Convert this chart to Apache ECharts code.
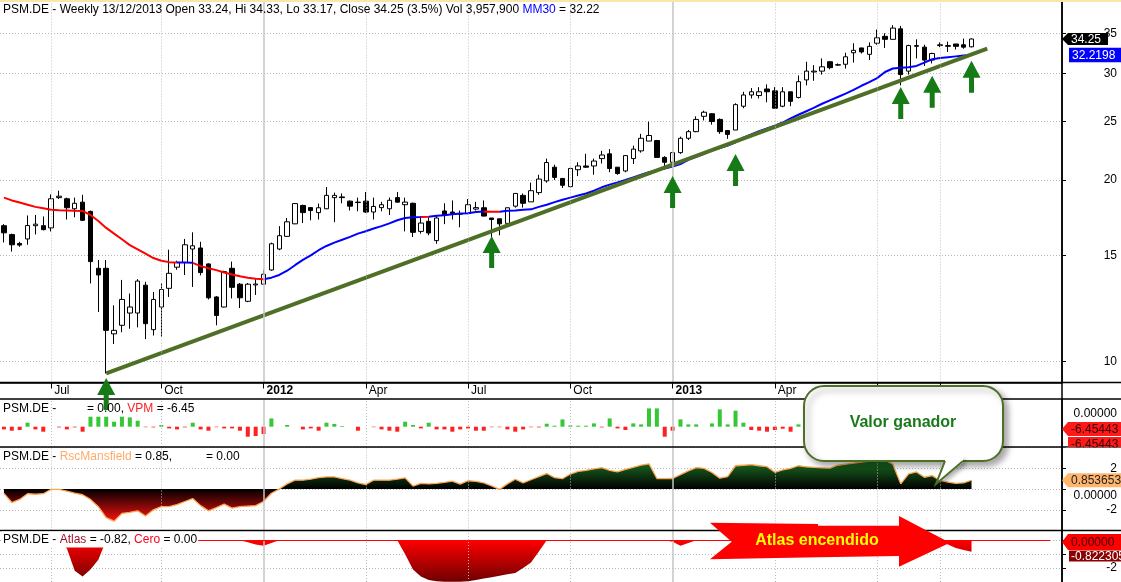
<!DOCTYPE html>
<html>
<head>
<meta charset="utf-8">
<script src="https://cdn.jsdelivr.net/npm/echarts@6.0.0/dist/echarts.min.js"></script>
<style>
html,body{margin:0;padding:0;background:#fff;}
#main{width:1121px;height:582px;}
</style>
</head>
<body>
<div id="main"></div>
<script>
// ---------- DATA ----------
const slotCount = 135; // weekly slots on the time axis (124 bars + empty right margin)
const firstWeek = [2011, 4, 20]; // 20 May 2011

const opens = [16.8,16.24,15.7,15.97,16.8,16.8,16.66,18.7,18.62,17.92,
18.38,17.74,14.28,14.28,11.12,11.49,12.04,12.04,13.39,11.3,
12.32,13.23,14.34,14.6,15.37,15.43,14.52,12.8,12.32,14.28,
13.44,12.59,13.4,13.44,14.19,15.37,16.13,16.92,18.15,18.0,
17.66,17.92,18.7,18.75,18.45,18.35,18.45,17.7,18.0,17.92,
18.7,18.2,18.3,16.44,17.08,15.87,17.77,17.7,17.55,17.6,
17.9,17.99,17.3,17.25,16.95,18.1,18.86,18.4,19.06,19.93,
21.0,20.12,19.5,20.8,21.1,21.1,21.7,22.1,21.0,20.7,
21.7,22.35,23.2,23.25,21.8,21.4,22.2,23.45,24.05,25.5,
25.75,25.2,24.15,24.2,26.5,27.66,27.6,28.3,28.1,26.5,
28.0,27.4,29.3,30.2,30.3,31.4,31.0,31.1,32.5,33.1,
32.3,33.7,34.6,34.2,35.6,30.3,33.3,33.2,31.6,33.4,
33.3,33.6,33.5,33.24];
const closes = [16.35,15.62,15.6,16.81,16.9,16.55,18.62,18.8,17.99,18.3,
17.15,14.65,13.92,11.27,11.27,12.68,12.32,13.6,11.56,12.68,
13.17,14.01,14.6,15.62,15.56,14.05,12.76,11.93,14.1,13.28,
12.76,13.44,13.45,13.96,15.68,16.17,17.05,18.28,17.66,17.8,
17.99,18.86,18.86,18.7,18.1,18.38,17.7,18.08,18.2,18.51,
18.38,18.38,16.38,16.97,16.34,17.3,17.5,17.6,17.6,18.2,
18.0,17.43,17.2,16.92,17.99,19.0,18.3,19.2,20.07,21.38,
20.2,19.6,20.9,21.1,21.0,21.5,22.0,20.9,20.5,21.95,
22.5,23.45,23.7,21.8,21.4,22.2,23.45,24.05,25.2,25.9,
25.0,24.05,23.8,26.66,27.66,28.0,28.0,28.0,26.3,28.0,
27.0,29.1,30.3,30.3,30.8,30.7,31.05,32.0,32.8,32.6,
33.3,34.4,34.2,35.7,29.9,33.4,33.4,31.6,32.4,33.5,
33.4,33.3,33.2,34.25];
const lows = [15.76,15.22,15.5,15.62,16.25,16.5,16.44,18.6,17.2,17.35,
17.1,13.48,12.09,9.56,10.7,11.19,11.34,11.4,10.9,11.05,
11.0,12.8,14.2,13.92,13.3,13.9,12.68,11.49,12.3,12.73,
12.27,12.55,12.9,13.4,14.15,15.3,16.1,16.9,16.97,17.15,
17.2,17.9,17.03,18.3,17.8,17.75,17.65,17.2,17.75,17.5,
18.35,16.44,16.09,16.3,16.2,15.68,16.9,17.2,16.7,17.55,
17.8,17.4,15.9,16.2,16.9,18.0,18.0,18.4,18.9,19.8,
20.0,19.4,19.45,20.3,20.95,20.4,21.3,20.6,20.4,20.6,
21.25,22.2,23.2,21.8,21.1,21.3,22.1,23.3,24.0,25.1,
24.7,23.85,23.4,24.2,26.3,27.3,27.3,26.9,26.3,26.4,
26.5,27.3,28.7,29.2,29.9,30.5,30.9,30.6,31.3,32.4,
31.6,33.5,33.1,34.2,28.7,29.9,31.8,30.9,31.2,33.2,
32.6,32.9,33.0,33.17];
const highs = [16.9,16.3,15.8,17.47,17.5,17.4,18.93,19.2,18.7,18.7,
18.9,17.8,14.74,14.74,12.4,13.66,12.97,13.7,13.56,13.05,
13.48,15.33,14.7,15.97,16.38,15.8,14.55,12.85,14.15,14.65,
13.5,13.5,13.7,14.2,15.75,16.77,17.3,18.3,18.2,18.0,
18.28,19.47,19.06,19.0,18.5,18.7,19.1,18.7,18.4,18.7,
19.1,18.7,18.35,17.4,17.4,17.5,18.3,18.5,17.8,18.6,
18.4,18.5,17.3,17.25,18.0,19.0,19.0,19.8,20.4,21.7,
21.2,20.15,20.95,21.4,22.1,21.7,22.35,22.5,21.0,22.0,
22.8,23.85,24.98,23.3,21.9,22.2,23.6,24.2,25.5,26.05,
25.8,25.3,24.2,26.8,28.0,28.4,28.5,28.8,28.5,28.5,
28.0,29.8,31.4,31.0,31.8,31.5,31.2,32.5,33.7,33.1,
33.8,35.5,35.0,36.1,36.0,33.5,34.2,33.5,32.5,33.8,
33.9,33.6,34.3,34.33];
const ma30 = [18.7,18.5,18.35,18.2,18.05,17.95,17.85,17.82,17.8,17.78,
17.77,17.5,17.1,16.66,16.3,15.95,15.6,15.35,15.1,14.85,
14.7,14.62,14.6,14.6,14.58,14.4,14.28,14.18,14.05,13.95,
13.85,13.78,13.72,13.7,13.78,13.92,14.15,14.45,14.75,15.0,
15.3,15.55,15.75,15.92,16.1,16.3,16.45,16.62,16.77,16.95,
17.15,17.3,17.35,17.36,17.38,17.45,17.48,17.55,17.6,17.62,
17.7,17.73,17.72,17.72,17.78,17.8,17.85,17.88,18.05,18.2,
18.38,18.55,18.7,18.85,19.0,19.2,19.45,19.65,19.82,20.0,
20.2,20.4,20.6,20.75,20.9,21.05,21.25,21.6,21.85,22.1,
22.4,22.6,22.8,23.1,23.5,23.8,24.1,24.35,24.6,24.9,
25.3,25.65,26.0,26.35,26.75,27.1,27.45,27.8,28.2,28.65,
29.05,29.5,30.2,30.6,30.7,30.75,30.9,31.3,31.7,31.85,
31.95,32.05,32.15,32.22];
const vpm = [-2.7,-4,-3.3,4,-2.7,-5,0,-0.7,-2.7,-0.7,
-5,10,10,10,5,10,9.3,6,-0.5,-0.7,
1.7,-1.7,-2.7,-0.7,4,-2.7,-4,-0.5,-1.7,-1.7,
-4,-10,-9.3,-7.3,8.3,0,1.7,0,-2.7,-1.7,
-4,4,2.7,0.7,0,-4,0,-0.5,-2.7,-4,
-5,5,1.7,-1.7,4,-2.7,-2.7,-5,-2.7,-1.7,
-4,-4,-0.5,-0.5,-2.7,-5,-2.7,-0.5,-0.7,3,
1,7.3,1.3,1,1,3.3,-0.7,8.3,-1.7,-3.3,
3.3,2.3,18.3,18.3,-10,-4,7.3,2.3,2.3,0,
3.3,17.3,2.3,16,4,-3.3,-4,-5,-3.3,-2,
-5,2.3,3,1,2,-2,-1,3,2,-2,
1,4,-2,3,-8,2,-1,-3,1,-1,
-1.5,-2,-2,-3];
const rsc = [-0.41,-1.3,-1.0,-0.45,-0.5,-0.45,-0.03,-0.03,-0.2,-0.4,
-0.55,-1.0,-1.7,-2.75,-3.1,-2.35,-2.25,-2.1,-2.6,-2.0,
-1.7,-1.7,-1.5,-1.2,-0.92,-1.6,-2.1,-1.8,-1.46,-1.84,
-1.7,-1.65,-1.6,-1.2,-0.4,0.0,0.5,0.86,0.86,0.95,
1.1,1.17,1.17,1.0,0.86,0.6,0.44,0.86,0.86,0.86,
0.95,1.08,0.29,0.54,0.5,0.55,0.65,0.76,0.48,0.8,
0.75,0.6,0.3,-0.03,0.5,0.95,0.6,0.9,1.2,1.5,
1.1,1.0,1.45,1.7,1.8,1.95,2.06,1.8,1.65,1.9,
2.1,2.3,2.44,1.02,1.0,1.02,1.4,1.75,2.07,2.0,
1.6,1.05,1.2,2.25,2.3,2.35,2.25,2.16,1.62,1.85,
2.0,2.25,2.15,2.1,2.05,2.03,2.3,2.4,2.5,2.6,
2.7,2.75,2.8,2.4,0.5,1.46,1.65,1.14,1.3,0.83,
0.67,0.55,0.6,0.85];
const atlas = [0,0,0,0,0,0,0,0,-0.6,-2.2,
-2.6,-2.1,-1.4,0,0,0,0,0,0,0,
0,0,0,0,0,0,0,0,0,0,
0,-0.15,-0.3,-0.4,-0.2,0,0,0,0,0,
0,0,0,0,0,0,0,0,0,0,
0,-1.0,-2.1,-2.6,-2.85,-2.95,-2.98,-2.98,-2.98,-2.95,
-2.85,-2.75,-2.65,-2.55,-2.45,-2.35,-2.0,-1.6,-0.8,0,
0,0,0,0,0,0,0,0,0,0,
0,0,0,0,0,-0.1,-0.4,-0.2,0,0,
0,0,0,0,0,0,0,0,0,0,
0,0,0,0,0,0,0,0,0,0,
0,0,0,0,0,0,0,0,0,0,
-0.3,-0.55,-0.7,-0.82];
const trendline = [[13, 9.56], [125, 33.0]];
const arrowTips = [[13, 9.40], [62, 16.15], [85, 20.31], [93, 22.09], [114, 28.52], [118, 29.76], [123, 31.51]];
const tickIdx = [6, 20, 33, 46, 59, 72, 85, 98, 111, 119];
const tickText = ['Jul', 'Oct', '2012', 'Apr', 'Jul', 'Oct', '2013', 'Apr', 'Jul', 'Sep'];
const priceTicks = [10, 15, 20, 25, 30, 35];
const maSegments = [
  {lt: 21.7, color: '#ff0000'}, {gte: 21.7, lt: 24.2, color: '#0000ff'},
  {gte: 24.2, lt: 33, color: '#ff0000'}, {gte: 33, lt: 53.1, color: '#0000ff'},
  {gte: 53.1, lt: 54.2, color: '#ff0000'}, {gte: 54.2, lt: 61.4, color: '#0000ff'},
  {gte: 61.4, lt: 62.9, color: '#ff0000'}, {gte: 62.9, color: '#0000ff'}
];

// ---------- BUILD ----------
const FONT = "'Liberation Sans', Arial, sans-serif";
const categories = [];
for (let i = 0; i < slotCount; i++) {
  const d = new Date(Date.UTC(firstWeek[0], firstWeek[1], firstWeek[2] + 7 * i));
  categories.push(d.toISOString().slice(0, 10));
}
const candleData = opens.map((o, i) => [o, closes[i], lows[i], highs[i]]);
const tickMap = {};
tickIdx.forEach((ix, k) => { tickMap[ix] = tickText[k]; });
const isTick = idx => tickMap[idx] !== undefined;

const W = 1062;
const grids = [
  {left: 0, top: 0, width: W, height: 382.5},
  {left: 0, top: 399, width: W, height: 48},
  {left: 0, top: 447, width: W, height: 83.5},
  {left: 0, top: 530.5, width: W, height: 51.5}
];

const xAxes = grids.map((g, gi) => ({
  type: 'category', gridIndex: gi, data: categories, boundaryGap: true,
  axisLine: {show: gi === 0, onZero: false, lineStyle: {color: '#000', width: 1.5}},
  axisTick: {show: gi === 0, interval: idx => isTick(idx), alignWithLabel: true, length: 6, lineStyle: {color: '#000'}},
  axisLabel: {
    show: gi === 0, interval: idx => isTick(idx),
    formatter: (v, idx) => { const t = tickMap[idx]; if (!t) return ''; return t.length === 4 ? '{b|' + t + '}' : t; },
    align: 'left', padding: [0, 0, 0, 3], margin: 2, fontSize: 12, fontFamily: FONT, color: '#000',
    rich: {b: {fontWeight: 'bold', fontSize: 12, fontFamily: FONT, color: '#000'}}
  },
  splitLine: {show: false}
}));

const axisLineStyle = {show: true, onZero: false, lineStyle: {color: '#000', width: 1.5}};
const dotted = {show: true, lineStyle: {color: '#b8b8b8', width: 1, type: [1, 2]}};
const yAxes = [
  {type: 'log', gridIndex: 0, position: 'right', min: 9.237, max: 39.74, logBase: 10,
   axisLine: axisLineStyle,
   axisTick: {show: true, customValues: priceTicks, length: 4, lineStyle: {color: '#000'}},
   axisLabel: {show: true, customValues: priceTicks, margin: 55, align: 'right', fontSize: 12, fontFamily: FONT, color: '#000',
     formatter: v => String(Math.round(v))},
   splitLine: dotted},
  {type: 'value', gridIndex: 1, position: 'right', min: -20.3, max: 27.7,
   axisLine: axisLineStyle, axisTick: {show: false}, axisLabel: {show: false}, splitLine: {show: false}},
  {type: 'value', gridIndex: 2, position: 'right', min: -4, max: 4.06, interval: 2,
   axisLine: axisLineStyle, axisTick: {show: true, length: 4, lineStyle: {color: '#000'}},
   axisLabel: {margin: 55, align: 'right', fontSize: 12, fontFamily: FONT, color: '#000',
     formatter: v => (v === 2 || v === -2) ? String(v) : ''},
   splitLine: dotted},
  {type: 'value', gridIndex: 3, position: 'right', min: -3, max: 0.7, interval: 1,
   axisLine: axisLineStyle, axisTick: {show: true, length: 4, lineStyle: {color: '#000'}},
   axisLabel: {margin: 55, align: 'right', fontSize: 12, fontFamily: FONT, color: '#000',
     formatter: v => v === -2 ? '-2' : ''},
   splitLine: dotted}
];

const vLines = tickIdx.map((ix, k) => ({
  xAxis: ix,
  lineStyle: tickText[k].length === 4
    ? {color: '#c4c4c4', width: 1.5, type: 'solid'}
    : {color: '#bdbdbd', width: 1, type: [1, 2]}
}));

const gridLineSeries = [0, 1, 2, 3].map(gi => ({
  type: 'line', xAxisIndex: gi, yAxisIndex: gi, data: [], silent: true, z: 1,
  markLine: {silent: true, symbol: ['none', 'none'], label: {show: false}, animation: false, data: vLines}
}));

const series = gridLineSeries.concat([
  {type: 'line', xAxisIndex: 3, yAxisIndex: 3, data: [], silent: true, z: 4,
   markLine: {silent: true, symbol: ['none', 'none'], label: {show: false}, animation: false,
     data: [[{coord: [0, 0], lineStyle: {color: '#ff0000', width: 1.2, type: 'solid'}}, {coord: [133, 0]}]]}},
  {type: 'candlestick', xAxisIndex: 0, yAxisIndex: 0, data: candleData, barWidth: 5, z: 2, silent: true,
   itemStyle: {color: '#ffffff', color0: '#000000', borderColor: '#000000', borderColor0: '#000000', borderWidth: 1}},
  {type: 'line', xAxisIndex: 0, yAxisIndex: 0, data: ma30, symbol: 'none', silent: true, z: 3,
   lineStyle: {width: 2}},
  {type: 'line', xAxisIndex: 0, yAxisIndex: 0, data: trendline, symbol: 'none', silent: true, z: 4,
   lineStyle: {width: 4, color: '#4f6f27'}},
  {type: 'scatter', xAxisIndex: 0, yAxisIndex: 0, data: arrowTips, clip: false, silent: true, z: 6,
   symbol: 'path://M9 0 L18 17 L11.5 17 L11.5 32 L6.5 32 L6.5 17 L0 17 Z',
   symbolSize: [18, 32], symbolOffset: [0, '50%'], itemStyle: {color: '#167a16', opacity: 1}},
  {type: 'bar', xAxisIndex: 1, yAxisIndex: 1, data: vpm, barWidth: 4, silent: true, z: 2,
   itemStyle: {color: p => p.value >= 0 ? '#36c736' : '#ff2020'}},
  {type: 'line', xAxisIndex: 2, yAxisIndex: 2, data: rsc, symbol: 'none', silent: true, z: 2,
   lineStyle: {color: '#ffa552', width: 1.3},
   areaStyle: {opacity: 1, color: new echarts.graphic.LinearGradient(0, 455, 0, 522, [
     {offset: 0, color: '#23862a'}, {offset: 0.507, color: '#000000'}, {offset: 1, color: '#ff1010'}], true)}},
  {type: 'line', xAxisIndex: 3, yAxisIndex: 3, data: atlas, symbol: 'none', silent: true, z: 2,
   lineStyle: {width: 0, opacity: 0},
   areaStyle: {opacity: 1, color: new echarts.graphic.LinearGradient(0, 540, 0, 582, [
     {offset: 0, color: '#ff0000'}, {offset: 1, color: '#6e0000'}], true)}}
]);

const chart = echarts.init(document.getElementById('main'), null, {renderer: 'canvas'});
chart.setOption({
  animation: false,
  backgroundColor: '#ffffff',
  grid: grids,
  xAxis: xAxes,
  yAxis: yAxes,
  visualMap: [{type: 'piecewise', show: false, dimension: 0, seriesIndex: 6, pieces: maSegments}],
  series: series
});

// ---------- ANNOTATIONS ----------
function txt(x, y, text, extra) {
  return {type: 'text', x: x, y: y, z: 100, silent: true,
    style: Object.assign({text: text, font: '12px ' + FONT, fill: '#000', verticalAlign: 'middle', align: 'left'}, extra || {})};
}
function tagLeft(yc, h, xEnd, fill, text, textColor) {
  const t = yc - h / 2, b = yc + h / 2;
  return [
    {type: 'polygon', z: 100, silent: true, shape: {points: [[1062, yc], [1068, t], [xEnd, t], [xEnd, b], [1068, b]]}, style: {fill: fill}},
    txt(1071, yc + 0.5, text, {fill: textColor})
  ];
}
const yClose = chart.convertToPixel({yAxisIndex: 0}, closes[closes.length - 1]);
const yMA = chart.convertToPixel({yAxisIndex: 0}, ma30[ma30.length - 1]);
const yRsc = chart.convertToPixel({yAxisIndex: 2}, rsc[rsc.length - 1]);
const R = {font: '12px ' + FONT};
const sepZ = 5;
const els = [
  {type: 'rect', z: 100, silent: true, shape: {x: 0, y: 0, width: 1121, height: 2}, style: {fill: '#f9e7aa'}},
  // separators
  {type: 'line', z: sepZ, silent: true, shape: {x1: 0, y1: 382.5, x2: 1121, y2: 382.5}, style: {stroke: '#000', lineWidth: 1.5}},
  {type: 'line', z: sepZ, silent: true, shape: {x1: 0, y1: 399, x2: 1121, y2: 399}, style: {stroke: '#000', lineWidth: 1.5}},
  {type: 'line', z: sepZ, silent: true, shape: {x1: 0, y1: 447, x2: 1121, y2: 447}, style: {stroke: '#000', lineWidth: 1.5}},
  {type: 'line', z: sepZ, silent: true, shape: {x1: 0, y1: 530.5, x2: 1121, y2: 530.5}, style: {stroke: '#000', lineWidth: 1.5}},
  {type: 'line', z: sepZ, silent: true, shape: {x1: 1062, y1: 0, x2: 1062, y2: 582}, style: {stroke: '#000', lineWidth: 1.5}},
  // title and panel captions
  txt(3, 10, 'PSM.DE - Weekly 13/12/2013 Open 33.24, Hi 34.33, Lo 33.17, Close 34.25 (3.5%) Vol 3,957,900 {b|MM30} = 32.22',
      {rich: {b: Object.assign({fill: '#0000ff'}, R)}}),
  txt(3, 409, 'PSM.DE -'),
  txt(87, 409, '= 0.00, {r|VPM} = -6.45', {rich: {r: Object.assign({fill: '#ff2020'}, R)}}),
  txt(3, 457, 'PSM.DE - {o|RscMansfield} = 0.85,', {rich: {o: Object.assign({fill: '#ffaa66'}, R)}}),
  txt(206, 457, '= 0.00'),
  txt(2, 539.5, 'PSM.DE - {a|Atlas} = -0.82, {c|Cero} = 0.00',
      {backgroundColor: '#ffffff', padding: [2, 1, 2, 1],
       rich: {a: Object.assign({fill: '#a0102a'}, R), c: Object.assign({fill: '#ff0022'}, R)}}),
  // right side value tags
  ...tagLeft(yClose, 12, 1108, '#000000', closes[closes.length - 1].toFixed(2), '#ffffff'),
  {type: 'rect', z: 100, silent: true, shape: {x: 1069, y: yMA - 7.3, width: 52, height: 14.6}, style: {fill: '#0000ff'}},
  txt(1072, yMA + 0.5, '32.2198', {fill: '#ffffff'}),
  txt(1117, 414, '0.00000', {align: 'right'}),
  ...tagLeft(429, 14, 1121, '#ff1a1a', '-6.45443', '#3a0000'),
  {type: 'rect', z: 100, silent: true, shape: {x: 1068, y: 437, width: 53, height: 10}, style: {fill: '#ff1a1a'}},
  txt(1071, 444.5, '-6.45443', {fill: '#3a0000'}),
  {type: 'rect', z: 101, silent: true, shape: {x: 1063, y: 447.8, width: 58, height: 5}, style: {fill: '#ffffff'}},
  ...tagLeft(yRsc, 14, 1121, '#ffb56b', '0.853653', '#222222'),
  txt(1117, 496, '0.00000', {align: 'right'}),
  ...tagLeft(542, 16, 1121, '#ff0000', '0.00000', '#3a0000'),
  {type: 'rect', z: 100, silent: true, shape: {x: 1069, y: 550.5, width: 52, height: 11}, style: {fill: '#8b0000'}},
  txt(1071, 556.5, '-0.822305', {fill: '#ffffff'}),
  // "Atlas encendido" banner arrow
  {type: 'polygon', z: 100, silent: true,
   shape: {points: [[710, 522.7], [818, 524], [818, 525.7], [899, 525.7], [899, 516], [950, 542.7], [899, 566.7], [899, 556], [818, 557.3], [710, 559.3], [731.7, 541.7]]},
   style: {fill: '#ff0000'}},
  txt(817, 541, 'Atlas encendido', {font: 'bold 16px ' + FONT, fill: '#ffff00', align: 'center'}),
  // "Valor ganador" callout
  {type: 'rect', z: 101, silent: true, shape: {x: 804, y: 386, width: 199, height: 75, r: 20},
   style: {fill: '#ffffff', stroke: '#4e7026', lineWidth: 2, shadowBlur: 6, shadowOffsetX: 4, shadowOffsetY: 4, shadowColor: 'rgba(0,0,0,0.35)'}},
  {type: 'polygon', z: 102, silent: true, shape: {points: [[945, 457], [963, 457], [963, 462.5], [936, 484], [945, 462.5]]},
   style: {fill: '#ffffff', shadowBlur: 4, shadowOffsetX: 3, shadowOffsetY: 3, shadowColor: 'rgba(0,0,0,0.3)'}},
  {type: 'polyline', z: 103, silent: true, shape: {points: [[945, 461], [936, 484], [963, 461]]}, style: {stroke: '#4e7026', lineWidth: 2, fill: null}},
  Object.assign(txt(903, 423, 'Valor ganador', {font: 'bold 16px ' + FONT, fill: '#1a7a1a', align: 'center'}), {z: 104})
];
chart.setOption({graphic: {elements: els}});
</script>
</body>
</html>
